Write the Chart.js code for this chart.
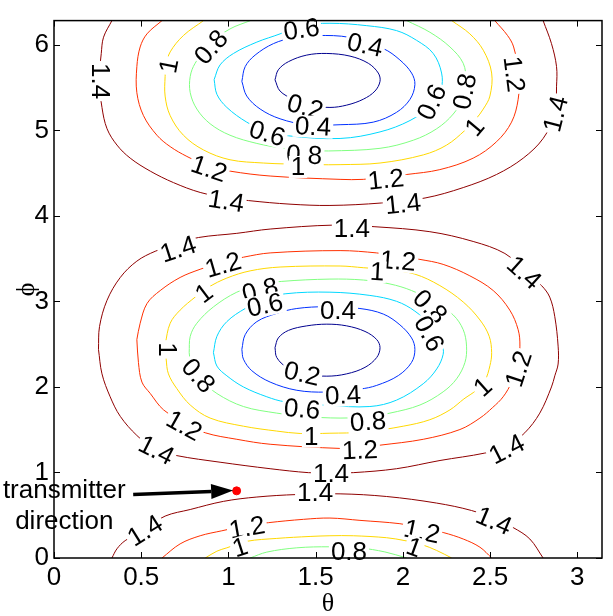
<!DOCTYPE html>
<html>
<head>
<meta charset="utf-8">
<script src="https://cdn.jsdelivr.net/npm/chart.js@4.4.1/dist/chart.umd.min.js"></script>
<style>
  html, body { margin: 0; padding: 0; background: #fff; }
  #wrap { width: 613px; height: 616px; }
</style>
</head>
<body>
<div id="wrap"><canvas id="chart" width="613" height="616"></canvas></div>
<script>
// axes
const xRange = [0, 3.1416]
const yRange = [0, 6.2832]
const xTicks = [0, 0.5, 1, 1.5, 2, 2.5, 3]
const yTicks = [0, 1, 2, 3, 4, 5, 6]

// contour levels and their line colours
const levels = [0.2, 0.4, 0.6, 0.8, 1, 1.2, 1.4]
const levelColors = ["#00008f", "#0030ff", "#00d8ff", "#80ff80", "#ffd800", "#ff3000", "#8f0000"]

// contour lines, [theta, phi]
// upper minimum (phi ~ 5.6)
const a02 = [[1.267,5.591],[1.286,5.708],[1.344,5.803],[1.449,5.880],[1.564,5.899],[1.697,5.868],[1.802,5.784],[1.859,5.670],[1.869,5.573],[1.840,5.459],[1.773,5.364],[1.678,5.295],[1.582,5.268],[1.468,5.295],[1.372,5.364],[1.296,5.459]]
const a04 = [[1.077,5.573],[1.096,5.745],[1.153,5.880],[1.258,6.014],[1.372,6.083],[1.506,6.109],[1.697,6.086],[1.888,5.956],[1.983,5.823],[2.050,5.670],[2.069,5.535],[2.041,5.363],[1.964,5.211],[1.830,5.096],[1.640,5.066],[1.449,5.066],[1.296,5.135],[1.182,5.249],[1.105,5.401]]
const a06 = [[0.918,5.593],[0.934,5.421],[0.991,5.268],[1.105,5.096],[1.210,4.997],[1.344,4.936],[1.640,4.905],[1.869,4.982],[2.041,5.115],[2.155,5.283],[2.218,5.478],[2.222,5.670],[2.174,5.899],[2.079,6.052],[1.964,6.166],[1.793,6.224],[1.582,6.252],[1.411,6.224],[1.296,6.128],[1.163,6.032],[1.029,5.899],[0.952,5.765]]
const a08Top = [[1.126,6.283],[1.009,6.186],[0.895,6.017],[0.809,5.784],[0.781,5.631],[0.781,5.440],[0.819,5.249],[0.895,5.077],[1.009,4.943],[1.163,4.847],[1.315,4.790],[1.439,4.767],[1.573,4.759],[1.869,4.790],[2.060,4.885],[2.194,5.019],[2.289,5.191],[2.338,5.363],[2.361,5.570],[2.346,5.784],[2.270,5.975],[2.155,6.147],[2.022,6.283]]
const a10Top = [[0.857,6.283],[0.742,6.109],[0.666,5.917],[0.643,5.765],[0.637,5.631],[0.637,5.401],[0.666,5.172],[0.742,4.943],[0.857,4.771],[1.009,4.656],[1.200,4.618],[1.334,4.607],[1.506,4.599],[1.640,4.599],[1.869,4.618],[2.117,4.713],[2.251,4.828],[2.356,5.000],[2.419,5.134],[2.461,5.249],[2.499,5.401],[2.509,5.670],[2.461,5.937],[2.384,6.128],[2.280,6.283]]
const a12Top = [[0.619,6.283],[0.533,6.128],[0.494,5.975],[0.475,5.745],[0.475,5.440],[0.513,5.172],[0.590,4.943],[0.666,4.810],[0.762,4.695],[0.884,4.584],[1.010,4.523],[1.239,4.466],[1.640,4.427],[1.773,4.427],[1.897,4.458],[2.022,4.484],[2.212,4.541],[2.403,4.675],[2.537,4.867],[2.623,5.096],[2.661,5.363],[2.665,5.650],[2.635,5.975],[2.600,6.109],[2.527,6.283]]
const a14Top = [[0.332,6.283],[0.284,6.089],[0.271,5.899],[0.259,5.593],[0.275,5.268],[0.304,5.019],[0.361,4.828],[0.437,4.675],[0.552,4.523],[0.685,4.389],[0.838,4.274],[0.981,4.217],[1.115,4.179],[1.353,4.137],[1.582,4.122],[1.879,4.151],[2.127,4.209],[2.346,4.331],[2.537,4.484],[2.690,4.675],[2.804,4.905],[2.871,5.191],[2.881,5.516],[2.881,5.745],[2.852,6.014],[2.804,6.283]]
// the same contours after wrapping round to phi = 0
const a08Bot = [[1.124,0],[1.220,0.069],[1.392,0.119],[1.582,0.131],[1.754,0.117],[1.897,0.071],[2.022,0]]
const a10Bot = [[0.867,0],[0.934,0.080],[0.991,0.119],[1.105,0.195],[1.277,0.229],[1.468,0.252],[1.582,0.260],[1.716,0.260],[1.907,0.237],[2.012,0.203],[2.108,0.157],[2.194,0.088],[2.280,0]]
const a12Bot = [[0.619,0],[0.723,0.165],[0.838,0.260],[0.962,0.318],[1.096,0.375],[1.229,0.413],[1.430,0.452],[1.582,0.467],[1.754,0.440],[1.983,0.401],[2.109,0.352],[2.231,0.298],[2.346,0.222],[2.442,0.126],[2.509,0]]
const a14Bot = [[0.332,0],[0.361,0.108],[0.408,0.203],[0.523,0.341],[0.637,0.490],[0.781,0.567],[0.971,0.662],[1.163,0.713],[1.392,0.742],[1.640,0.750],[1.907,0.719],[2.194,0.642],[2.394,0.555],[2.527,0.455],[2.632,0.356],[2.728,0.222],[2.804,0]]
// lower minimum (phi ~ 2.4)
const b02 = [[1.267,2.459],[1.286,2.573],[1.344,2.661],[1.449,2.714],[1.564,2.734],[1.678,2.714],[1.783,2.649],[1.850,2.554],[1.869,2.459],[1.850,2.344],[1.783,2.229],[1.678,2.153],[1.564,2.126],[1.430,2.153],[1.334,2.229],[1.277,2.344]]
const b04 = [[1.077,2.439],[1.096,2.611],[1.163,2.764],[1.277,2.860],[1.392,2.917],[1.560,2.938],[1.754,2.917],[1.888,2.852],[1.983,2.726],[2.050,2.573],[2.069,2.439],[2.050,2.287],[1.974,2.133],[1.850,2.018],[1.754,1.975],[1.560,1.940],[1.392,1.961],[1.239,2.057],[1.134,2.190],[1.086,2.325]]
const b06 = [[0.914,2.401],[0.934,2.592],[0.991,2.764],[1.096,2.917],[1.210,3.024],[1.325,3.089],[1.582,3.108],[1.811,3.070],[1.964,3.001],[2.069,2.886],[2.167,2.703],[2.224,2.497],[2.231,2.382],[2.194,2.210],[2.117,2.038],[1.964,1.846],[1.811,1.771],[1.564,1.786],[1.325,1.826],[1.220,1.885],[1.086,2.000],[0.991,2.130],[0.934,2.244]]
const b08 = [[0.775,2.401],[0.781,2.592],[0.819,2.745],[0.914,2.936],[1.048,3.108],[1.182,3.196],[1.306,3.234],[1.582,3.261],[1.773,3.250],[1.926,3.204],[2.050,3.127],[2.184,2.990],[2.289,2.841],[2.346,2.669],[2.365,2.477],[2.356,2.287],[2.308,2.095],[2.231,1.943],[2.098,1.789],[1.926,1.694],[1.800,1.654],[1.640,1.636],[1.430,1.656],[1.277,1.694],[1.086,1.771],[0.934,1.923],[0.838,2.095],[0.787,2.244]]
const b10 = [[0.637,2.497],[0.666,2.745],[0.723,2.898],[0.809,3.050],[0.885,3.165],[0.991,3.273],[1.124,3.357],[1.296,3.402],[1.640,3.414],[1.773,3.394],[1.926,3.368],[2.069,3.319],[2.212,3.185],[2.346,2.993],[2.442,2.783],[2.495,2.592],[2.509,2.401],[2.499,2.248],[2.470,2.072],[2.420,1.960],[2.350,1.860],[2.270,1.732],[2.155,1.617],[2.002,1.541],[1.773,1.472],[1.582,1.459],[1.411,1.456],[1.277,1.484],[1.086,1.541],[0.895,1.636],[0.781,1.789],[0.704,1.981],[0.656,2.153],[0.643,2.325]]
const b12 = [[0.475,2.554],[0.494,2.745],[0.533,2.975],[0.609,3.127],[0.723,3.280],[0.838,3.376],[0.964,3.460],[1.086,3.517],[1.239,3.567],[1.640,3.594],[1.850,3.567],[1.972,3.529],[2.098,3.491],[2.231,3.433],[2.384,3.299],[2.518,3.127],[2.613,2.898],[2.661,2.669],[2.671,2.477],[2.659,2.267],[2.625,2.061],[2.575,1.885],[2.515,1.760],[2.442,1.636],[2.327,1.502],[2.117,1.388],[1.869,1.319],[1.754,1.292],[1.640,1.281],[1.239,1.330],[1.048,1.388],[0.867,1.464],[0.752,1.579],[0.628,1.732],[0.552,1.923],[0.504,2.057],[0.484,2.287]]
const b14 = [[0.255,2.439],[0.261,2.706],[0.304,3.013],[0.380,3.280],[0.475,3.471],[0.580,3.586],[0.712,3.678],[0.828,3.747],[1.048,3.796],[1.239,3.846],[1.601,3.892],[1.840,3.873],[2.155,3.815],[2.403,3.701],[2.585,3.560],[2.699,3.357],[2.795,3.185],[2.842,3.050],[2.871,2.821],[2.890,2.477],[2.890,2.268],[2.871,2.130],[2.852,2.000],[2.785,1.694],[2.699,1.464],[2.596,1.304],[2.470,1.227],[2.213,1.140],[1.964,1.044],[1.716,0.998],[1.582,0.994],[1.458,0.998],[1.239,1.044],[0.952,1.120],[0.704,1.197],[0.580,1.269],[0.475,1.433],[0.380,1.656],[0.322,1.885],[0.275,2.153]]

// which level each line belongs to, and whether it closes on itself
const contourLines = [
  [0.2, a02, true], [0.4, a04, true], [0.6, a06, true],
  [0.8, a08Top, false], [1, a10Top, false], [1.2, a12Top, false], [1.4, a14Top, false],
  [0.8, a08Bot, false], [1, a10Bot, false], [1.2, a12Bot, false], [1.4, a14Bot, false],
  [0.2, b02, true], [0.4, b04, true], [0.6, b06, true], [0.8, b08, true],
  [1, b10, true], [1.2, b12, true], [1.4, b14, true]
]

// inline contour labels: text, theta, phi, rotation (deg, clockwise)
const contourLabels = [
  ["0.6",1.419,6.178,-8], ["0.4",1.783,5.994,12], ["0.2",1.439,5.272,15], ["0.4",1.485,5.042,3],
  ["0.6",1.222,4.962,17], ["0.8",1.434,4.710,3], ["1",1.399,4.572,0], ["0.8",0.901,5.971,-48],
  ["1",0.660,5.753,-79], ["1.4",0.265,5.576,90], ["1.2",0.889,4.549,19], ["1.4",0.987,4.171,9],
  ["0.6",2.167,5.329,-65], ["0.8",2.356,5.455,-79], ["1",2.413,5.037,-50], ["1.2",2.636,5.656,83],
  ["1.4",2.877,5.191,-76], ["1.2",1.903,4.423,-6], ["1.4",2.001,4.136,-6],
  ["1.4",0.712,3.609,-18], ["1.2",0.970,3.425,-16], ["1",0.861,3.093,-37], ["0.8",1.182,3.127,-14],
  ["0.6",1.210,2.955,-12], ["0.4",1.628,2.886,0], ["1",0.649,2.439,90], ["0.8",0.826,2.130,48],
  ["0.2",1.422,2.153,13], ["0.4",1.657,1.900,-3], ["0.6",1.422,1.740,5], ["0.8",1.800,1.591,-4],
  ["1",1.474,1.419,0], ["1.2",0.746,1.545,29], ["1.2",1.754,1.258,-2], ["1.4",0.586,1.258,27],
  ["1.4",1.588,0.983,0], ["1.4",2.596,1.269,-27], ["1",2.459,1.998,-42], ["1.2",2.665,2.210,-72],
  ["1.4",2.694,3.334,42], ["1.2",1.972,3.471,5], ["1",1.852,3.345,3], ["1.4",1.708,3.850,0],
  ["0.8",2.155,2.938,45], ["0.6",2.149,2.623,62],
  ["1.4",0.523,0.318,-32], ["1.4",1.497,0.759,0], ["1.2",1.107,0.352,-10], ["1",1.067,0.123,-18],
  ["0.8",1.691,0.077,0], ["1.2",2.109,0.306,12], ["1",2.064,0.123,20], ["1.4",2.522,0.432,23]
]

// transmitter marker and its callout
const transmitter = [1.047, 0.785]
const arrowFrom = [0.454, 0.742]
const arrowTo = [1.027, 0.788]
const calloutText = ["transmitter", "direction"]
const calloutAt = [[0.059, 0.788], [0.059, 0.421]]

const toXY = pts => pts.map(p => ({ x: p[0], y: p[1] }))

const datasets = contourLines.map(([level, pts, closed]) => ({
  data: toXY(closed ? pts.concat([pts[0]]) : pts),
  showLine: true,
  borderColor: levelColors[levels.indexOf(level)],
  borderWidth: 1,
  pointRadius: 0,
  tension: 0.35,
  fill: false
}))
datasets.push({
  data: toXY([transmitter]),
  showLine: false,
  pointRadius: 4,
  pointBackgroundColor: "#ff0000",
  pointBorderColor: "#ff0000",
  pointBorderWidth: 1
})

const sans = "'Liberation Sans', Arial, Helvetica, sans-serif"
const labelFont = "26px " + sans

const matlabAxes = {
  id: "matlabAxes",
  afterDatasetsDraw(chart) {
    const { ctx, scales: { x, y } } = chart
    ctx.save()
    ctx.font = labelFont
    ctx.textAlign = "center"
    ctx.textBaseline = "middle"
    contourLabels.forEach(([txt, t, p, rot]) => {
      const w = ctx.measureText(txt).width
      ctx.save()
      ctx.translate(x.getPixelForValue(t), y.getPixelForValue(p))
      ctx.rotate(rot * Math.PI / 180)
      ctx.fillStyle = "#fff"
      ctx.fillRect(-w / 2 - 2, -11, w + 4, 22)
      ctx.fillStyle = "#000"
      ctx.fillText(txt, 0, 1)
      ctx.restore()
    })
    ctx.restore()
  },
  afterDraw(chart) {
    const { ctx, chartArea: a, scales: { x, y } } = chart
    ctx.save()
    ctx.strokeStyle = "#000"
    ctx.lineWidth = 1
    ctx.beginPath()
    xTicks.forEach(v => {
      const px = Math.round(x.getPixelForValue(v)) + 0.5
      ctx.moveTo(px, a.bottom); ctx.lineTo(px, a.bottom - 6)
      ctx.moveTo(px, a.top); ctx.lineTo(px, a.top + 6)
    })
    yTicks.forEach(v => {
      const py = Math.round(y.getPixelForValue(v)) + 0.5
      ctx.moveTo(a.left, py); ctx.lineTo(a.left + 6, py)
      ctx.moveTo(a.right, py); ctx.lineTo(a.right - 6, py)
    })
    ctx.stroke()
    ctx.lineWidth = 1.5
    ctx.strokeRect(a.left, a.top, a.right - a.left, a.bottom - a.top)

    // callout text and arrow
    ctx.fillStyle = "#000"
    ctx.font = "26px " + sans
    ctx.textAlign = "center"
    ctx.textBaseline = "middle"
    calloutText.forEach((txt, i) => {
      ctx.fillText(txt, x.getPixelForValue(calloutAt[i][0]), y.getPixelForValue(calloutAt[i][1]))
    })
    const x0 = x.getPixelForValue(arrowFrom[0]), y0 = y.getPixelForValue(arrowFrom[1])
    const x1 = x.getPixelForValue(arrowTo[0]), y1 = y.getPixelForValue(arrowTo[1])
    const ang = Math.atan2(y1 - y0, x1 - x0)
    const headLen = 22, headW = 7.5
    const bx = x1 - headLen * Math.cos(ang), by = y1 - headLen * Math.sin(ang)
    ctx.lineWidth = 3.5
    ctx.beginPath()
    ctx.moveTo(x0, y0); ctx.lineTo(bx, by)
    ctx.stroke()
    ctx.beginPath()
    ctx.moveTo(x1, y1)
    ctx.lineTo(bx + headW * Math.sin(ang), by - headW * Math.cos(ang))
    ctx.lineTo(bx - headW * Math.sin(ang), by + headW * Math.cos(ang))
    ctx.closePath()
    ctx.fill()
    ctx.restore()
  }
}

const tickFont = { family: sans, size: 26 }
const titleFont = { family: "'Liberation Serif', 'DejaVu Serif', serif", size: 26, lineHeight: 1 }

new Chart(document.getElementById("chart"), {
  type: "scatter",
  data: { datasets },
  options: {
    responsive: false,
    animation: false,
    devicePixelRatio: 1,
    layout: { padding: { top: 10, right: 11, left: 0, bottom: 0 } },
    plugins: { legend: { display: false }, tooltip: { enabled: false } },
    scales: {
      x: {
        type: "linear",
        min: xRange[0], max: xRange[1],
        grid: { display: false, drawTicks: false },
        border: { display: false },
        afterBuildTicks: s => { s.ticks = xTicks.map(v => ({ value: v })) },
        afterFit: s => { s.height = 58 },
        ticks: { color: "#000", font: tickFont, padding: 4, maxRotation: 0, callback: v => String(v) },
        title: { display: true, text: "θ", color: "#000", font: titleFont, padding: { top: 0, bottom: -1 } }
      },
      y: {
        type: "linear",
        min: yRange[0], max: yRange[1],
        grid: { display: false, drawTicks: false },
        border: { display: false },
        afterBuildTicks: s => { s.ticks = yTicks.map(v => ({ value: v })) },
        afterFit: s => { s.width = 54 },
        ticks: { color: "#000", font: tickFont, padding: 5, callback: v => String(v) },
        title: { display: true, text: "ϕ", color: "#000", font: titleFont, padding: { top: 14, bottom: 0 } }
      }
    }
  },
  plugins: [matlabAxes]
})
</script>
</body>
</html>
